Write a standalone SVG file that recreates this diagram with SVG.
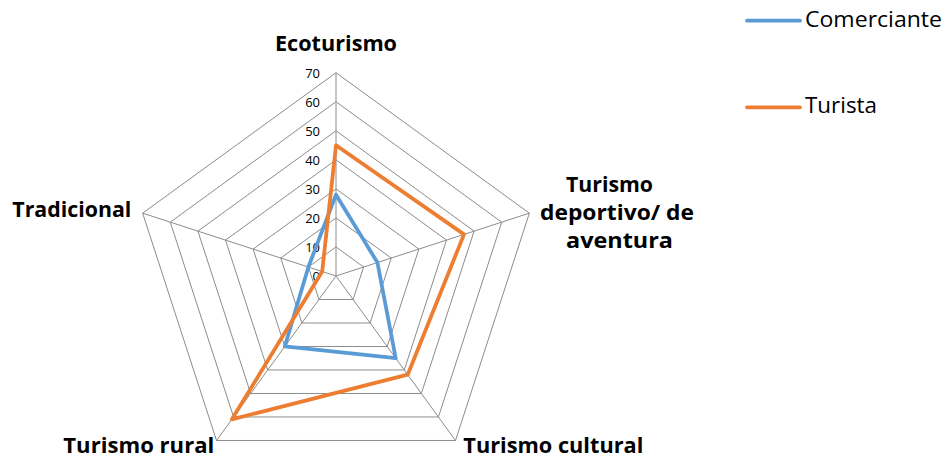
<svg xmlns="http://www.w3.org/2000/svg" width="947" height="460" viewBox="0 0 947 460">
<style>
.grid{fill:none;stroke:#8c8c8c;stroke-width:1}
.axis{stroke:#8c8c8c;stroke-width:1}
.tick{font-family:"Open Sans","Liberation Sans",sans-serif;font-size:13px;fill:#000;text-anchor:end}
.cat{font-family:"Open Sans","Liberation Sans",sans-serif;font-size:21px;font-weight:bold;fill:#000}
.leg{font-family:"Open Sans","Liberation Sans",sans-serif;font-size:21px;fill:#000}
.ser{fill:none;stroke-width:3.75;stroke-linejoin:round;stroke-linecap:round}
.blue{stroke:#5B9BD5}
.orange{stroke:#ED7D31}
</style>
<rect width="947" height="460" fill="#fff"/>
<g id="grid">
<polygon class="grid" points="336,246.96 363.62,267.03 353.07,299.49 318.93,299.49 308.38,267.03"/>
<polygon class="grid" points="336,217.91 391.25,258.05 370.14,323.00 301.86,323.00 280.75,258.05"/>
<polygon class="grid" points="336,188.87 418.87,249.08 387.21,346.49 284.79,346.49 253.13,249.08"/>
<polygon class="grid" points="336,159.83 446.49,240.10 404.28,369.98 267.72,369.98 225.51,240.10"/>
<polygon class="grid" points="336,130.79 474.10,231.13 421.35,393.48 250.65,393.48 197.90,231.13"/>
<polygon class="grid" points="336,101.74 501.73,222.15 438.43,416.98 233.57,416.98 170.27,222.15"/>
<polygon class="grid" points="336,72.7 529.35,213.18 455.50,440.47 216.50,440.47 142.65,213.18"/>
<line class="axis" x1="336" y1="276" x2="336" y2="72.7"/>
<line class="axis" x1="336" y1="276" x2="529.35" y2="213.18"/>
<line class="axis" x1="336" y1="276" x2="455.50" y2="440.47"/>
<line class="axis" x1="336" y1="276" x2="216.50" y2="440.47"/>
<line class="axis" x1="336" y1="276" x2="142.65" y2="213.18"/>
</g>
<g id="ticks">
<text class="tick" x="320" y="77.7">70</text>
<text class="tick" x="320" y="106.7">60</text>
<text class="tick" x="320" y="135.8">50</text>
<text class="tick" x="320" y="164.8">40</text>
<text class="tick" x="320" y="193.9">30</text>
<text class="tick" x="320" y="222.9">20</text>
<text class="tick" x="320" y="251.9">10</text>
<text class="tick" x="320" y="281">0</text>
</g>
<g id="connectors">
<polygon class="ser blue" points="336,194.69 377.43,262.54 395.74,358.23 284.79,346.48 308.38,267.03"/>
<polygon class="ser orange" points="336,145.32 464.0,234.4 407.69,374.68 231.88,419.31 322.19,271.51"/>
</g>
<g id="node-ecoturismo">
<text class="cat" x="275" y="51" textLength="122" lengthAdjust="spacingAndGlyphs">Ecoturismo</text>
</g>
<g id="node-deportivo">
<text class="cat" x="566" y="191.5" textLength="87" lengthAdjust="spacingAndGlyphs">Turismo</text>
<text class="cat" x="540" y="219.5" textLength="154" lengthAdjust="spacingAndGlyphs">deportivo/ de</text>
<text class="cat" x="566" y="247.5" textLength="107" lengthAdjust="spacingAndGlyphs">aventura</text>
</g>
<g id="node-cultural">
<text class="cat" x="463.3" y="453.3" textLength="180" lengthAdjust="spacingAndGlyphs">Turismo cultural</text>
</g>
<g id="node-rural">
<text class="cat" x="63.3" y="453.3" textLength="151" lengthAdjust="spacingAndGlyphs">Turismo rural</text>
</g>
<g id="node-tradicional">
<text class="cat" x="12.3" y="216.7" textLength="119" lengthAdjust="spacingAndGlyphs">Tradicional</text>
</g>
<g id="legend">
<line class="ser blue" x1="747" y1="20.7" x2="800" y2="20.7"/>
<text class="leg" x="805" y="27.3" textLength="137" lengthAdjust="spacingAndGlyphs">Comerciante</text>
<line class="ser orange" x1="747" y1="107.3" x2="800" y2="107.3"/>
<text class="leg" x="805" y="113.3" textLength="72" lengthAdjust="spacingAndGlyphs">Turista</text>
</g>
</svg>
